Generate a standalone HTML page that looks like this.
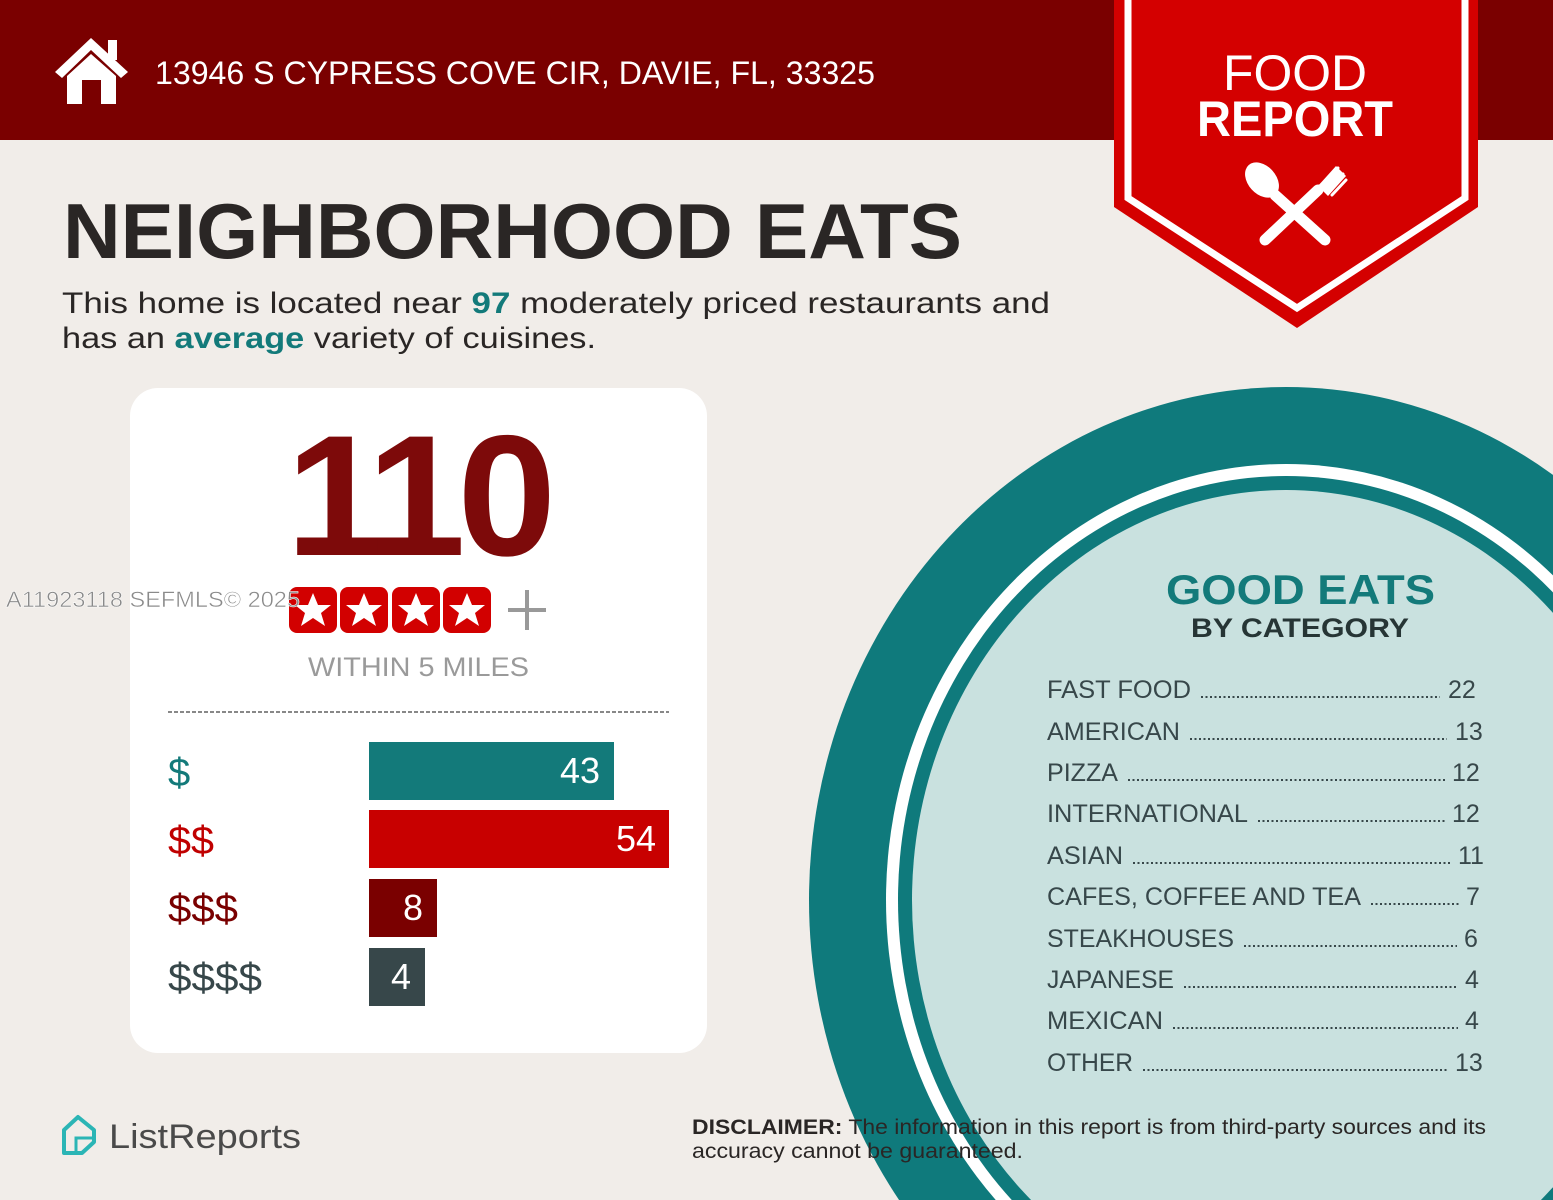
<!DOCTYPE html>
<html><head><meta charset="utf-8"><style>
html,body{margin:0;padding:0;background:#f1ede9;overflow:hidden;}
svg{display:block;font-family:"Liberation Sans",sans-serif;}
</style></head><body>
<svg width="1553" height="1200" viewBox="0 0 1553 1200" xmlns="http://www.w3.org/2000/svg">
<rect width="1553" height="1200" fill="#f1ede9"/>
<rect width="1553" height="140" fill="#7a0000"/>
<!-- house -->
<polygon points="55,72 91,38 128,72 121,78 91,50 62,78" fill="#fff"/>
<rect x="108" y="40" width="9" height="20" fill="#fff"/>
<polygon points="67,76 91,54 116,76 116,104 101,104 101,80 82,80 82,104 67,104" fill="#fff"/>
<text x="155" y="84" font-size="32" fill="#fff" textLength="720" lengthAdjust="spacingAndGlyphs">13946 S CYPRESS COVE CIR, DAVIE, FL, 33325</text>
<!-- badge -->
<polygon points="1114,0 1478,0 1478,207 1297,328 1114,207" fill="#d40000"/>
<polyline points="1128,0 1128,198 1297,308 1465,198 1465,0" fill="none" stroke="#fff" stroke-width="7"/>
<text x="1223" y="90" font-size="50" fill="#fff" textLength="144" lengthAdjust="spacingAndGlyphs">FOOD</text>
<text x="1197" y="136" font-size="50" font-weight="bold" fill="#fff" textLength="196" lengthAdjust="spacingAndGlyphs">REPORT</text>
<g stroke="#fff" stroke-linecap="round" fill="#fff">
<line x1="1275" y1="195" x2="1325" y2="240" stroke-width="11"/>
<ellipse cx="1262" cy="180" rx="14" ry="20" transform="rotate(-42 1262 180)" stroke="none"/>
<line x1="1265" y1="240" x2="1318" y2="190" stroke-width="11"/>
<line x1="1316" y1="192" x2="1330" y2="178" stroke-width="6"/>
<path d="M1322,186 L1338,168 M1327,190 L1343,174 M1332,195 L1346,180" stroke-width="3"/>
<polygon points="1318,186 1336,166 1346,176 1328,196" stroke="none"/>
</g>
<!-- title -->
<text x="63" y="258" font-size="78" font-weight="bold" fill="#2a2625" textLength="899" lengthAdjust="spacingAndGlyphs">NEIGHBORHOOD EATS</text>
<text x="62" y="313" font-size="30" fill="#2a2625" textLength="988" lengthAdjust="spacingAndGlyphs">This home is located near <tspan font-weight="bold" fill="#137a7a">97</tspan> moderately priced restaurants and</text>
<text x="62" y="348" font-size="30" fill="#2a2625" textLength="534" lengthAdjust="spacingAndGlyphs">has an <tspan font-weight="bold" fill="#137a7a">average</tspan> variety of cuisines.</text>
<!-- circle -->
<ellipse cx="1286" cy="900" rx="477" ry="513" fill="#0f7a7c"/>
<ellipse cx="1286" cy="900" rx="400" ry="436" fill="#fff"/>
<ellipse cx="1286" cy="900" rx="388" ry="424" fill="#0f7a7c"/>
<ellipse cx="1286" cy="900" rx="374" ry="410" fill="#c9e1df"/>
<text x="1166" y="604" font-size="42" font-weight="bold" fill="#137a7a" textLength="269" lengthAdjust="spacingAndGlyphs">GOOD EATS</text>
<text x="1191" y="637" font-size="27" font-weight="bold" fill="#263535" textLength="218" lengthAdjust="spacingAndGlyphs">BY CATEGORY</text>
<g font-size="25" fill="#37474a">
<text x="1047" y="698" textLength="144" lengthAdjust="spacingAndGlyphs">FAST FOOD</text><text x="1448" y="698">22</text>
<text x="1047" y="740" textLength="133" lengthAdjust="spacingAndGlyphs">AMERICAN</text><text x="1455" y="740">13</text>
<text x="1047" y="781" textLength="71" lengthAdjust="spacingAndGlyphs">PIZZA</text><text x="1452" y="781">12</text>
<text x="1047" y="822" textLength="201" lengthAdjust="spacingAndGlyphs">INTERNATIONAL</text><text x="1452" y="822">12</text>
<text x="1047" y="864" textLength="76" lengthAdjust="spacingAndGlyphs">ASIAN</text><text x="1458" y="864">11</text>
<text x="1047" y="905" textLength="314" lengthAdjust="spacingAndGlyphs">CAFES, COFFEE AND TEA</text><text x="1466" y="905">7</text>
<text x="1047" y="947" textLength="187" lengthAdjust="spacingAndGlyphs">STEAKHOUSES</text><text x="1464" y="947">6</text>
<text x="1047" y="988" textLength="127" lengthAdjust="spacingAndGlyphs">JAPANESE</text><text x="1465" y="988">4</text>
<text x="1047" y="1029" textLength="116" lengthAdjust="spacingAndGlyphs">MEXICAN</text><text x="1465" y="1029">4</text>
<text x="1047" y="1071" textLength="86" lengthAdjust="spacingAndGlyphs">OTHER</text><text x="1455" y="1071">13</text>
</g>
<g stroke="#37474a" stroke-width="2" stroke-dasharray="2 2.5">
<line x1="1201" y1="697" x2="1440" y2="697"/>
<line x1="1190" y1="739" x2="1447" y2="739"/>
<line x1="1128" y1="780" x2="1446" y2="780"/>
<line x1="1258" y1="821" x2="1446" y2="821"/>
<line x1="1133" y1="863" x2="1452" y2="863"/>
<line x1="1371" y1="904" x2="1459" y2="904"/>
<line x1="1244" y1="946" x2="1457" y2="946"/>
<line x1="1184" y1="987" x2="1458" y2="987"/>
<line x1="1173" y1="1028" x2="1458" y2="1028"/>
<line x1="1143" y1="1070" x2="1447" y2="1070"/>
</g>
<!-- card -->
<rect x="130" y="388" width="577" height="665" rx="28" fill="#fff"/>
<text x="286" y="555" font-size="172" font-weight="bold" fill="#7d0a0a" textLength="262" lengthAdjust="spacingAndGlyphs" letter-spacing="-8">110</text>
<g fill="#d20000">
<rect x="289" y="587" width="48" height="46" rx="8"/><rect x="340" y="587" width="48" height="46" rx="8"/>
<rect x="392" y="587" width="48" height="46" rx="8"/><rect x="443" y="587" width="48" height="46" rx="8"/>
</g>
<g fill="#fff">
<polygon id="st" points="313,593 318,605 331,605 321,613 325,626 313,618 301,626 305,613 295,605 308,605"/>
<use href="#st" x="51"/><use href="#st" x="103"/><use href="#st" x="154"/>
</g>
<rect x="508" y="608" width="38" height="4" fill="#999"/><rect x="525" y="590" width="4" height="40" fill="#999"/>
<text x="308" y="676" font-size="27" fill="#9a9a9a" textLength="221" lengthAdjust="spacingAndGlyphs">WITHIN 5 MILES</text>
<line x1="168" y1="712" x2="669" y2="712" stroke="#888" stroke-width="2" stroke-dasharray="4 2"/>
<g font-size="40">
<text x="168" y="786" fill="#137a7a">$</text>
<text x="168" y="854" fill="#c00000" textLength="46" lengthAdjust="spacingAndGlyphs">$$</text>
<text x="168" y="922" fill="#7a0000" textLength="70" lengthAdjust="spacingAndGlyphs">$$$</text>
<text x="168" y="991" fill="#37474a" textLength="94" lengthAdjust="spacingAndGlyphs">$$$$</text>
</g>
<rect x="369" y="742" width="245" height="58" fill="#137a7a"/>
<rect x="369" y="810" width="300" height="58" fill="#c80000"/>
<rect x="369" y="879" width="68" height="58" fill="#7a0000"/>
<rect x="369" y="948" width="56" height="58" fill="#37474a"/>
<g font-size="36" fill="#fff" text-anchor="end">
<text x="600" y="783">43</text><text x="656" y="851">54</text><text x="423" y="920">8</text><text x="411" y="989">4</text>
</g>
<!-- watermark -->
<text x="6" y="607" font-size="22" fill="#8a8a8a" stroke="#fff" stroke-width="0.5" textLength="294" lengthAdjust="spacingAndGlyphs">A11923118  SEFMLS© 2025</text>
<!-- footer -->
<path d="M64,1130 L78,1117 L94,1130 L94,1142 L82,1153 L64,1153 Z" fill="none" stroke="#2bb5b5" stroke-width="4" stroke-linejoin="round"/>
<path d="M76,1153 L76,1138 L94,1138" fill="none" stroke="#2bb5b5" stroke-width="3"/>
<text x="109" y="1148" font-size="34" fill="#4a4a4a" textLength="192" lengthAdjust="spacingAndGlyphs">ListReports</text>
<text x="692" y="1134" font-size="21" fill="#2a2625" textLength="794" lengthAdjust="spacingAndGlyphs"><tspan font-weight="bold">DISCLAIMER:</tspan> The information in this report is from third-party sources and its</text>
<text x="692" y="1158" font-size="21" fill="#2a2625" textLength="331" lengthAdjust="spacingAndGlyphs">accuracy cannot be guaranteed.</text>
</svg>
</body></html>
